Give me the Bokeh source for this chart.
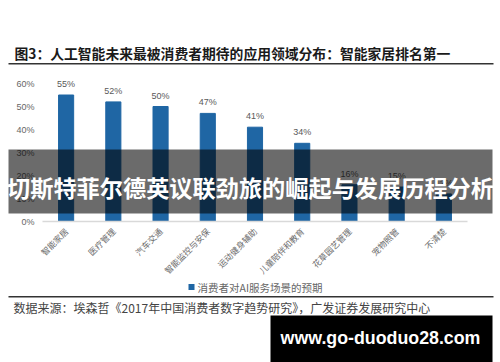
import math
from bokeh.plotting import figure
from bokeh.models import ColumnDataSource, Label, BoxAnnotation, FixedTicker, Range1d
from bokeh.embed import file_html
from bokeh.resources import INLINE
from bokeh.core.properties import value

categories = ["智能家居", "医疗管理", "汽车交通", "智能监控与安保", "运动健身辅助",
              "儿童陪伴和教育", "花草园艺管理", "宠物照管", "不清楚"]
values = [55, 52, 50, 47, 41, 34, 16, 15, 12]
value_labels = [f"{v}%" for v in values]
y_ticks = [0, 10, 20, 30, 40, 50, 60]
y_tick_labels = ["0%", "10%", "20%", "30%", "40%", "50%", "60%"]

title_text = "图3：人工智能未来最被消费者期待的应用领域分布：智能家居排名第一"
band_text = "切斯特菲尔德英议联劲旅的崛起与发展历程分析"
legend_text = "消费者对AI服务场景的预期"
source_text = "数据来源：埃森哲《2017年中国消费者数字趋势研究》，广发证券发展研究中心"
watermark_text = "www.go-duoduo28.com"

BAR = "#1f66a4"
CJK = "Noto Sans CJK SC"

idx = list(range(len(categories)))
src = ColumnDataSource(dict(x=idx, cat=categories, val=values, lab=value_labels))

W, H = 500, 362
# frame covers whole canvas; plot area mapped to x 42..467 px, y 0% at 221 px
PX_PER_CAT = (467 - 42) / len(categories)
x0 = -0.5 - 42 / PX_PER_CAT
x1 = x0 + W / PX_PER_CAT
PX_PER_PCT = 2.3
y0 = -(H - 221) / PX_PER_PCT
y1 = 221 / PX_PER_PCT

p = figure(width=W, height=H, x_range=Range1d(x0, x1), y_range=Range1d(y0, y1),
           output_backend="svg", toolbar_location=None,
           min_border=0, min_border_left=0, min_border_right=0,
           min_border_top=0, min_border_bottom=0)
p.outline_line_color = None
p.background_fill_color = "white"
p.border_fill_color = "white"
p.xgrid.visible = False
p.ygrid.visible = False

p.vbar(x="x", top="val", width=0.32, source=src, color=BAR)
p.text(x="x", y="val", text="lab", source=src, text_align="center",
       text_baseline="bottom", y_offset=-6, text_font_size="9px",
       text_color="#595959", text_font=value("Liberation Sans"))

xa = p.xaxis[0]
xa.fixed_location = 0
xa.bounds = (-0.5, len(categories) - 0.5)
xa.ticker = FixedTicker(ticks=idx)
xa.major_label_overrides = {i: c for i, c in zip(idx, categories)}
xa.axis_line_color = "#d9d9d9"
xa.axis_line_width = 1.5
xa.major_tick_line_color = None
xa.minor_tick_line_color = None
xa.major_tick_in = 0
xa.major_tick_out = 0
xa.major_label_orientation = math.pi / 4
xa.major_label_text_font = CJK
xa.major_label_text_font_size = "8.5px"
xa.major_label_text_color = "#6b6b6b"
xa.major_label_standoff = 8

ya = p.yaxis[0]
ya.fixed_location = -0.5
ya.axis_line_color = None
ya.major_tick_line_color = None
ya.minor_tick_line_color = None
ya.major_tick_in = 0
ya.major_tick_out = 0
ya.ticker = FixedTicker(ticks=y_ticks)
ya.major_label_overrides = {t: l for t, l in zip(y_ticks, y_tick_labels)}
ya.major_label_text_font = "Liberation Sans"
ya.major_label_text_font_size = "9px"
ya.major_label_text_color = "#666666"
ya.major_label_standoff = 8


def box(l, r, t, b, color, alpha=1.0):
    p.add_layout(BoxAnnotation(left=l, right=r, top=t, bottom=b,
                               left_units="canvas", right_units="canvas",
                               top_units="canvas", bottom_units="canvas",
                               fill_color=color, fill_alpha=alpha,
                               line_color=None))


def label(x, y, text, size, color, font=CJK, style="normal", align="left"):
    p.add_layout(Label(x=x, y=y, x_units="canvas", y_units="canvas", text=text,
                       text_font=font, text_font_size=size, text_color=color,
                       text_font_style=style, text_align=align,
                       text_baseline="middle"))


# title and rules
label(14, 52, title_text, "13.8px", "#1a1a1a", style="bold")
box(8, 493, 62.5, 64, "#333333")
box(8, 493, 295.5, 297, "#333333")

# legend
box(188, 194, 283.5, 289.5, BAR)
label(197, 287, legend_text, "10.5px", "#666666")

# source
label(13, 306.5, source_text, "12px", "#444444")

# overlay band
box(8, 492, 149, 213, "black", 0.58)
label(250, 186.5, band_text, "23.2px", "white", style="bold", align="center")

# watermark
box(270, 492, 315, 362, "black")
label(380, 337, watermark_text, "17.8px", "white", font="Liberation Sans",
      style="bold", align="center")

open("out.html", "w").write(file_html(p, INLINE))
